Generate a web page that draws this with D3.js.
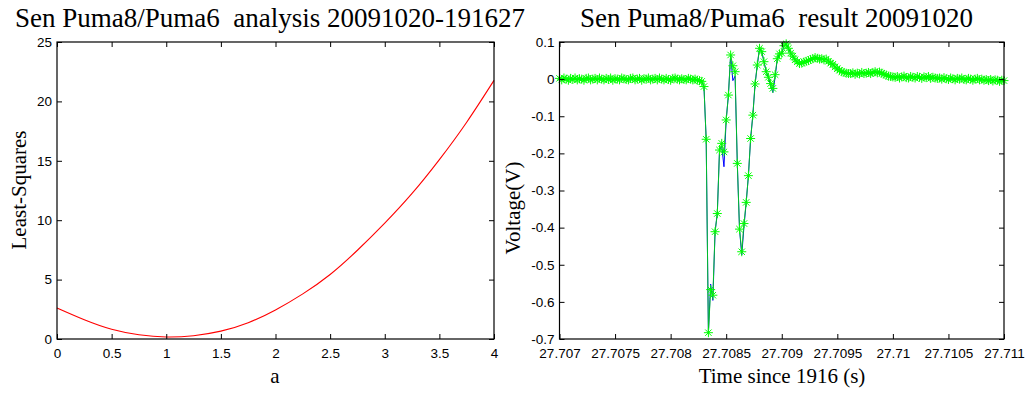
<!DOCTYPE html>
<html>
<head>
<meta charset="utf-8">
<script src="https://cdn.jsdelivr.net/npm/d3@7"></script>
<style>
  html, body { margin: 0; padding: 0; background: #fff; }
  svg { display: block; }
  .tick text { font-family: "Liberation Sans", Arial, sans-serif; font-size: 13.5px; fill: #000; }
  .tick line { stroke: #000; }
</style>
</head>
<body>
<svg id="fig" width="1033" height="394"></svg>
<script>
// ---- Least-squares misfit against the scale factor a ----
const aValues = [0, 0.25, 0.5, 0.75, 1, 1.25, 1.5, 1.75, 2, 2.25, 2.5, 2.75, 3, 3.25, 3.5, 3.75, 4];
const lsValues = [2.61, 1.62, 0.82, 0.36, 0.17, 0.28, 0.66, 1.37, 2.45, 3.8, 5.43, 7.47, 9.75, 12.25, 15.1, 18.25, 21.77];
const aTicks = [0, 0.5, 1, 1.5, 2, 2.5, 3, 3.5, 4];
const aTickLabels = ["0", "0.5", "1", "1.5", "2", "2.5", "3", "3.5", "4"];
const lsTicks = [0, 5, 10, 15, 20, 25];
const lsTickLabels = ["0", "5", "10", "15", "20", "25"];

// ---- Recorded waveform, 50 kHz samples starting at 27.707 s ----
const sampleStart = 27.707;
const sampleStep = 0.00002;
const fitVolts = [
  0.002, -0.002, 0.003, 0.000, -0.003, 0.002, -0.001, 0.003, -0.002, 0.001,
  0.000, -0.003, 0.002, 0.003, -0.002, 0.000, 0.002, -0.002, 0.003, 0.000,
  -0.002, 0.002, -0.001, 0.003, -0.003, 0.001, 0.000, -0.002, 0.003, 0.001,
  -0.001, -0.002, 0.002, 0.003, -0.002, 0.000, 0.002, -0.003, 0.001, 0.000,
  0.003, -0.002, 0.000, 0.002, -0.002, 0.003, 0.000, -0.002, 0.002, -0.001,
  -0.003, 0.002, 0.003, 0.000, -0.002, 0.001, -0.001, -0.002, 0.002, 0.000,
  -0.002, 0.000, -0.003, -0.004,
  -0.006, -0.020, -0.162, -0.683, -0.567, -0.582, -0.411, -0.362, -0.191, -0.173,
  -0.196, -0.110, -0.043, 0.065, 0.036, 0.020, -0.227, -0.404, -0.465, -0.389,
  -0.332, -0.260, -0.160, -0.097, -0.013, 0.038, 0.083, 0.074, 0.047, 0.020,
  0.005, -0.012, -0.025, 0.012, 0.055, 0.068, 0.070, 0.090, 0.095, 0.083,
  0.070, 0.062, 0.052, 0.047, 0.042, 0.043, 0.046, 0.048, 0.050, 0.053,
  0.055, 0.058, 0.056, 0.054, 0.055, 0.052, 0.054, 0.048, 0.043, 0.040,
  0.033, 0.028, 0.024, 0.020, 0.018, 0.016, 0.015,
  0.015, 0.017, 0.013, 0.016, 0.014, 0.018, 0.015, 0.016, 0.018, 0.015,
  0.018, 0.020, 0.017, 0.019, 0.016, 0.013, 0.011, 0.008, 0.007, 0.006,
  0.005, 0.007, 0.003, 0.006, 0.008, 0.004, 0.003, 0.007, 0.005, 0.003,
  0.007, 0.005, 0.002, 0.006, 0.004, 0.007, 0.002, 0.005, 0.003, 0.002,
  0.003, 0.000, 0.004, 0.001, -0.001, 0.003, 0.001, -0.002, 0.002, 0.000,
  0.003, -0.001, -0.002, 0.002, 0.000, -0.003, 0.000, 0.002, -0.002, 0.000,
  -0.003, -0.001, -0.004, -0.001, -0.005, -0.002, -0.003, -0.006, -0.003, -0.004
];
// Samples where the raw trace departs from the fitted trace: [sample index, volts]
const rawDepartures = [[68, -0.552], [69, -0.596], [73, -0.180], [74, -0.236], [78, -0.004], [79, 0.008],
                       [82, -0.474], [83, -0.398], [95, -0.018], [96, -0.036], [97, 0.004]];
const tTicks = [27.707, 27.7075, 27.708, 27.7085, 27.709, 27.7095, 27.71, 27.7105, 27.711];
const tTickLabels = ["27.707", "27.7075", "27.708", "27.7085", "27.709", "27.7095", "27.71", "27.7105", "27.711"];
const vTicks = [0.1, 0, -0.1, -0.2, -0.3, -0.4, -0.5, -0.6, -0.7];
const vTickLabels = ["0.1", "0", "-0.1", "-0.2", "-0.3", "-0.4", "-0.5", "-0.6", "-0.7"];

const svg = d3.select("#fig");
svg.append("rect").attr("width", 1033).attr("height", 394).attr("fill", "#fff");

const serif = '"Liberation Serif", "Times New Roman", serif';

// Draws a MATLAB-style boxed axes with inward ticks on all four sides
function boxAxes(g, x, y, xt, xl, yt, yl) {
  const [x0, x1] = x.range();
  const [y1, y0] = y.range();
  g.append("g").attr("transform", `translate(0,${y1})`)
    .call(d3.axisBottom(x).tickValues(xt).tickFormat((d, i) => xl[i]).tickSizeInner(-5).tickSizeOuter(0).tickPadding(9))
    .call(s => s.select(".domain").remove());
  g.append("g").attr("transform", `translate(0,${y0})`)
    .call(d3.axisTop(x).tickValues(xt).tickFormat("").tickSizeInner(-5).tickSizeOuter(0))
    .call(s => s.select(".domain").remove());
  g.append("g").attr("transform", `translate(${x0},0)`)
    .call(d3.axisLeft(y).tickValues(yt).tickFormat((d, i) => yl[i]).tickSizeInner(-5).tickSizeOuter(0).tickPadding(5))
    .call(s => s.select(".domain").remove());
  g.append("g").attr("transform", `translate(${x1},0)`)
    .call(d3.axisRight(y).tickValues(yt).tickFormat("").tickSizeInner(-5).tickSizeOuter(0))
    .call(s => s.select(".domain").remove());
  g.selectAll(".tick text").attr("fill", "#000");
  g.append("rect").attr("x", x0).attr("y", y0).attr("width", x1 - x0).attr("height", y1 - y0)
    .attr("fill", "none").attr("stroke", "#000").attr("stroke-width", 1.2);
}

// ---- Left panel ----
const xA = d3.scaleLinear().domain([0, 4]).range([57, 494]);
const yA = d3.scaleLinear().domain([0, 25]).range([339, 42]);
const gL = svg.append("g");
gL.append("path")
  .datum(aValues.map((a, i) => [a, lsValues[i]]))
  .attr("fill", "none").attr("stroke", "#ff0000").attr("stroke-width", 1.1)
  .attr("d", d3.line().x(d => xA(d[0])).y(d => yA(d[1])).curve(d3.curveNatural));
boxAxes(gL, xA, yA, aTicks, aTickLabels, lsTicks, lsTickLabels);
gL.append("text").attr("x", 270).attr("y", 27).attr("text-anchor", "middle")
  .attr("font-family", serif).attr("font-size", 27)
  .text("Sen Puma8/Puma6\u00a0\u00a0analysis 20091020-191627");
gL.append("text").attr("x", 275).attr("y", 383).attr("text-anchor", "middle")
  .attr("font-family", serif).attr("font-size", 21).text("a");
gL.append("text").attr("transform", "translate(26,190) rotate(-90)").attr("text-anchor", "middle")
  .attr("font-family", serif).attr("font-size", 21).text("Least-Squares");

// ---- Right panel ----
const xT = d3.scaleLinear().domain([27.707, 27.711]).range([559.5, 1004]);
const yV = d3.scaleLinear().domain([-0.7, 0.1]).range([339, 42]);
const gR = svg.append("g");
const fitData = fitVolts.map((v, i) => [sampleStart + i * sampleStep, v]);
const rawVolts = fitVolts.slice();
rawDepartures.forEach(([i, v]) => { rawVolts[i] = v; });
const rawData = rawVolts.map((v, i) => [sampleStart + i * sampleStep, v]);
const lineTV = d3.line().x(d => xT(d[0])).y(d => yV(d[1]));

gR.append("path").datum(rawData).attr("fill", "none").attr("stroke", "#0000ff").attr("stroke-width", 1).attr("d", lineTV);
gR.append("path").datum(fitData).attr("fill", "none").attr("stroke", "#00e000").attr("stroke-width", 1).attr("opacity", 0.85).attr("d", lineTV);
const star = "M-4.5,0H4.5M0,-4.5V4.5M-3.2,-3.2L3.2,3.2M-3.2,3.2L3.2,-3.2";
gR.append("g").selectAll("path").data(fitData).join("path")
  .attr("transform", d => `translate(${xT(d[0])},${yV(d[1])})`)
  .attr("d", star).attr("fill", "none").attr("stroke", "#00ff00").attr("stroke-width", 1);
boxAxes(gR, xT, yV, tTicks, tTickLabels, vTicks, vTickLabels);
gR.append("text").attr("x", 776.5).attr("y", 27).attr("text-anchor", "middle")
  .attr("font-family", serif).attr("font-size", 27)
  .text("Sen Puma8/Puma6\u00a0\u00a0result 20091020");
gR.append("text").attr("x", 782).attr("y", 383).attr("text-anchor", "middle")
  .attr("font-family", serif).attr("font-size", 21).text("Time since 1916 (s)");
gR.append("text").attr("transform", "translate(520,208) rotate(-90)").attr("text-anchor", "middle")
  .attr("font-family", serif).attr("font-size", 21).text("Voltage(V)");
</script>
</body>
</html>
